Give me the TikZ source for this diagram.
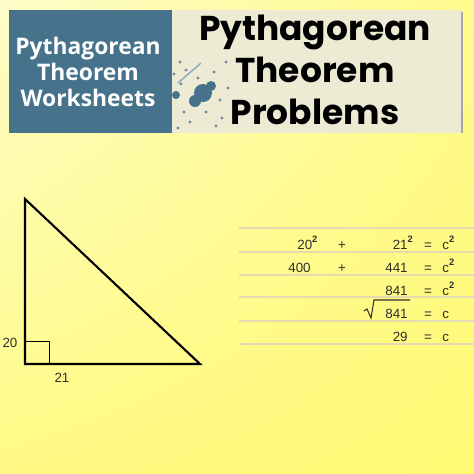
\documentclass[tikz,border=0pt]{standalone}
\usepackage{fontspec}
\setmainfont{Liberation Sans}
\newfontfamily\headfont{Open Sans}
\newfontfamily\titlefont{Poppins}
\usetikzlibrary{calc,shadings}

\definecolor{boxblue}{HTML}{46728C}
\definecolor{paper}{HTML}{EEEBD5}
\definecolor{pale}{HTML}{FEFCC8}
\definecolor{lemon}{HTML}{FFFA74}
\definecolor{rulecol}{HTML}{E4DBB0}
\definecolor{ink}{HTML}{2E2E2E}

\newcommand{\sq}{\textsuperscript{\bfseries\raisebox{0.25ex}{2}}}

\tikzset{
  eq/.style={font=\fontsize{7.6}{8.5}\selectfont, text=ink, inner sep=0pt},
  ruled/.style={rulecol, line width=0.9pt},
  headtxt/.style={font=\headfont\bfseries\fontsize{13}{15}\selectfont, text=white, align=center, inner sep=0pt},
  titletxt/.style={font=\titlefont\bfseries\fontsize{19.6}{23.8}\selectfont, align=center, inner sep=0pt}
}

\begin{document}
\begin{tikzpicture}[x=0.02cm,y=-0.02cm]
  % page and background
  \useasboundingbox (0,0) rectangle (474,474);
  \shade[upper left=pale, lower right=lemon, upper right=lemon!70!pale, lower left=lemon!80!pale] (0,0) rectangle (474,474);

  % header
  \fill[paper] (172,10) rectangle (462,133);
  \fill[boxblue] (9,10) rectangle (172,133);
  \draw[gray!70, line width=1.2pt] (462,12) -- (462,133);
  % splatter
  \fill[boxblue] (203,93) circle (9);
  \fill[boxblue] (195,101) circle (6);
  \fill[boxblue] (211,86) circle (5);
  \fill[boxblue] (176,95) circle (4);
  \foreach \p in {(180,62),(186,70),(214,72),(220,100),(184,112),(190,122),(222,118),(178,128),
                  (228,88),(206,112),(198,78),(174,74),(216,126),(226,62),(181,84)}
    \fill[boxblue!80] \p circle (1.6);
  \draw[boxblue!60, line width=0.8pt] (178,83) -- (201,63);
  \node[headtxt] (head) at (88,72) {Pythagorean\\Theorem\\Worksheets};
  \node[titletxt] (title) at (315,70) {Pythagorean\\Theorem\\Problems};

  % triangle
  \coordinate (A) at (25,199);
  \coordinate (C) at (25,364);
  \coordinate (B) at (200,364);
  \draw[line width=1.2pt, line join=miter] (A) -- (C) -- (B) -- cycle;
  \draw[line width=0.5pt] ($(C)+(0,-23)$) -- ($(C)+(24,-23)$) -- ($(C)+(24,0)$);
  \node[eq, anchor=base] (sa) at (10,347) {20};
  \node[eq, anchor=base] (sb) at (62,382) {21};

  % working
  \foreach \y in {228,252,275,297,321,344}
    \draw[ruled] (239,\y) -- (474,\y);
  \draw[ink, line width=0.6pt] (364,311) -- (367,309) -- (371,318) -- (374,300) -- (410,300);

  \node[eq, anchor=base west] (r1a) at (297,249) {20\sq};
  \node[eq, anchor=base] (r1p) at (342,249) {+};
  \node[eq, anchor=base east] (r1b) at (408,249) {21\rlap{\sq}};
  \node[eq, anchor=base] (r1e) at (428,249) {=};
  \node[eq, anchor=base west] (r1c) at (442,249) {c\sq};

  \node[eq, anchor=base west] (r2a) at (288,272) {400};
  \node[eq, anchor=base] (r2p) at (342,272) {+};
  \node[eq, anchor=base east] (r2b) at (408,272) {441};
  \node[eq, anchor=base] (r2e) at (428,272) {=};
  \node[eq, anchor=base west] (r2c) at (442,272) {c\sq};

  \node[eq, anchor=base east] (r3b) at (408,295) {841};
  \node[eq, anchor=base] (r3e) at (428,295) {=};
  \node[eq, anchor=base west] (r3c) at (442,295) {c\sq};

  \node[eq, anchor=base east] (r4b) at (408,318) {841};
  \node[eq, anchor=base] (r4e) at (428,318) {=};
  \node[eq, anchor=base west] (r4c) at (442,318) {c};

  \node[eq, anchor=base east] (r5b) at (408,341) {29};
  \node[eq, anchor=base] (r5e) at (428,341) {=};
  \node[eq, anchor=base west] (r5c) at (442,341) {c};
\end{tikzpicture}
\end{document}
